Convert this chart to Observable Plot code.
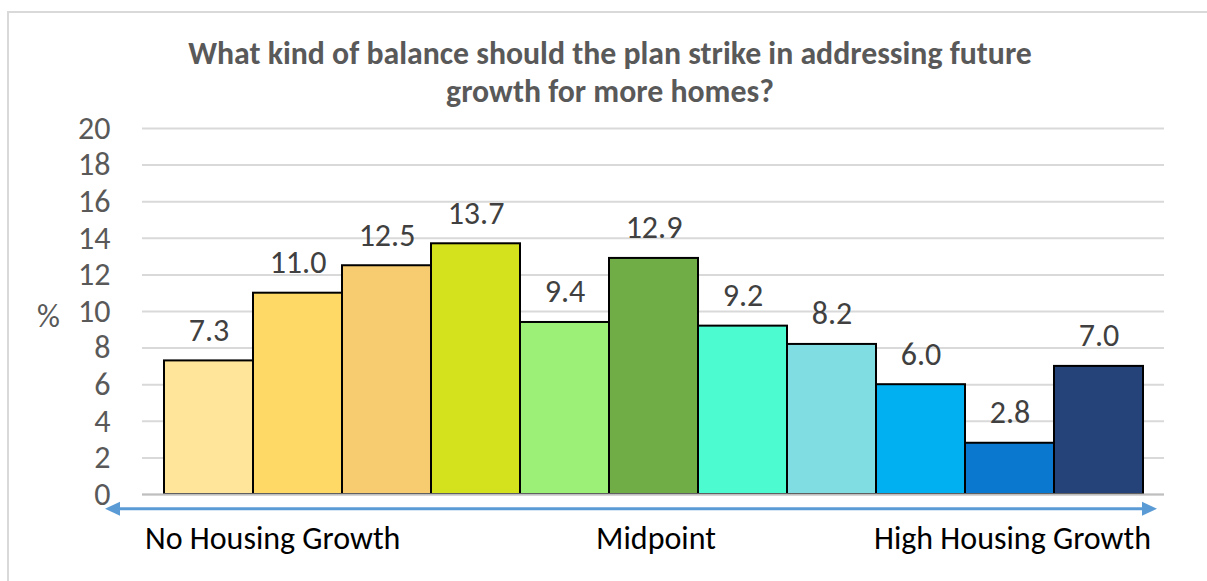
<!DOCTYPE html>
<html>
<head>
<meta charset="utf-8">
<script src="https://cdn.jsdelivr.net/npm/d3@7"></script>
<script src="https://cdn.jsdelivr.net/npm/@observablehq/plot@0.6"></script>
<style>
  html, body { margin: 0; padding: 0; background: #fff; }
  #wrap { position: relative; width: 1207px; height: 581px; overflow: hidden; background: #fff; }
  #frame { position: absolute; left: 7px; top: 11px; width: 1300px; height: 700px;
           border-left: 2px solid #d9d9d9; border-top: 2px solid #d9d9d9; }
  #title { position: absolute; left: 0; top: 35px; width: 1220px; text-align: center;
           font-family: Carlito, Lato, sans-serif; font-weight: bold; font-size: 31.8px;
           line-height: 38px; color: #595959; }
  #chart { position: absolute; left: 0; top: 0; }
</style>
</head>
<body>
<div id="wrap">
  <div id="frame"></div>
  <div id="chart"></div>
  <div id="title">What kind of balance should the plan strike in addressing future<br>growth for more homes?</div>
</div>
<script>
// ---- data ----
const categories = ["1", "2", "3", "4", "5", "6", "7", "8", "9", "10", "11"];
const values = [7.3, 11.0, 12.5, 13.7, 9.4, 12.9, 9.2, 8.2, 6.0, 2.8, 7.0];
const colors = ["#FFE599", "#FFD966", "#F7CB6F", "#D4E21E", "#9CF078", "#70AD47",
                "#4DFBD0", "#80DEE3", "#00B0F0", "#0A78CE", "#254378"];
const yTicks = [0, 2, 4, 6, 8, 10, 12, 14, 16, 18, 20];
const scaleLabels = ["No Housing Growth", "Midpoint", "High Housing Growth"];
const scaleLabelAt = ["1", "6", "11"];
const yUnit = "%";

const data = categories.map((c, i) => ({cat: c, value: values[i], color: colors[i]}));
const font = "Carlito, Lato, sans-serif";
const fs = 32;

const chart = Plot.plot({
  width: 1207,
  height: 581,
  marginLeft: 142,
  marginRight: 43,
  marginTop: 128,
  marginBottom: 87,
  style: {fontFamily: font, fontSize: fs + "px", color: "#595959", background: "transparent", overflow: "visible"},
  x: {domain: categories, paddingInner: 0, paddingOuter: 0.24, axis: null},
  y: {domain: [0, 20], ticks: yTicks},
  marks: [
    Plot.gridY(yTicks, {stroke: "#d9d9d9", strokeOpacity: 1, strokeWidth: 2}),
    Plot.axisY(yTicks, {tickSize: 0, tickPadding: 32, label: null, fontSize: fs, fill: "#595959",
                        tickFormat: d => String(d)}),
    Plot.barY(data, {x: "cat", y: "value", fill: d => d.color, stroke: "#000", strokeWidth: 2}),
    Plot.ruleY([0], {stroke: "#bfbfbf", strokeWidth: 2}),
    Plot.text(data, {x: "cat", y: "value", text: d => d.value.toFixed(1), lineAnchor: "bottom",
                     dy: -20, fill: "#404040", fontSize: fs}),
    Plot.text([yUnit], {frameAnchor: "left", y: 10, text: d => d, dx: -94, dy: 5,
                        textAnchor: "middle", fill: "#595959", fontSize: fs}),
    Plot.text([0], {x: () => scaleLabelAt[0], y: -3, text: () => scaleLabels[0], textAnchor: "start",
                    lineAnchor: "bottom", dx: -64, fill: "#000", fontSize: fs}),
    Plot.text([0], {x: () => scaleLabelAt[1], y: -3, text: () => scaleLabels[1], textAnchor: "middle",
                    lineAnchor: "bottom", dx: 2, fill: "#000", fontSize: fs}),
    Plot.text([0], {x: () => scaleLabelAt[2], y: -3, text: () => scaleLabels[2], textAnchor: "end",
                    lineAnchor: "bottom", dx: 52, fill: "#000", fontSize: fs})
  ]
});

// double-headed arrow below the axis, placed from the plot's own scales
const xs = chart.scale("x"), ys = chart.scale("y");
const ay = ys.apply(-0.8);
const xl = xs.range[0] - 37, xr = xs.range[1] - 7;
const head = 15, half = 7;
const svg = d3.select(chart);
const g = svg.append("g").attr("fill", "#5B9BD5").attr("stroke", "none");
g.append("line").attr("x1", xl + head - 2).attr("x2", xr - head + 2).attr("y1", ay).attr("y2", ay)
  .attr("stroke", "#5B9BD5").attr("stroke-width", 3);
g.append("path").attr("d", `M${xl},${ay}L${xl + head},${ay - half}L${xl + head},${ay + half}Z`);
g.append("path").attr("d", `M${xr},${ay}L${xr - head},${ay - half}L${xr - head},${ay + half}Z`);

document.getElementById("chart").appendChild(chart);
</script>
</body>
</html>
